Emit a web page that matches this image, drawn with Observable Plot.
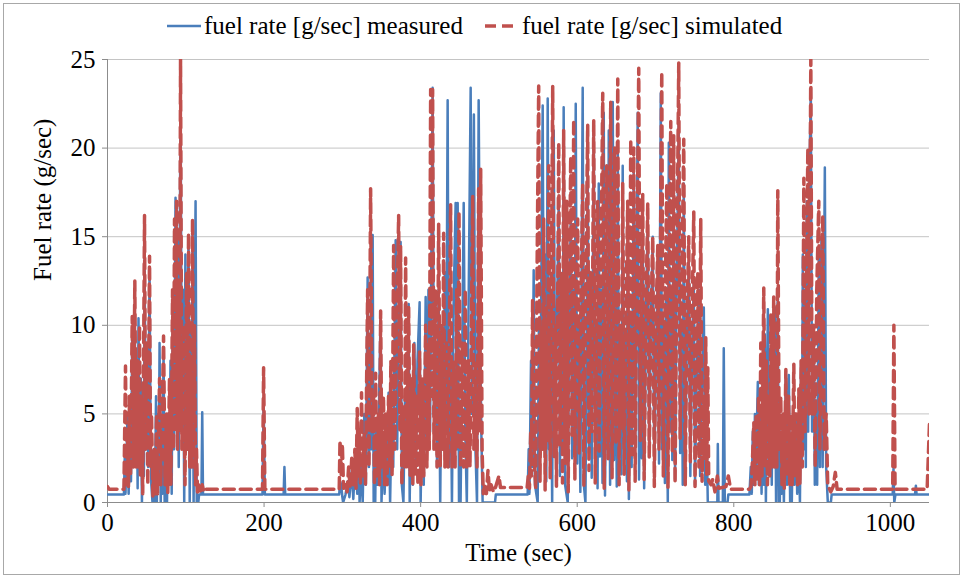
<!DOCTYPE html>
<html>
<head>
<meta charset="utf-8">
<script src="https://cdn.jsdelivr.net/npm/d3@7"></script>
<script src="https://cdn.jsdelivr.net/npm/@observablehq/plot@0.6"></script>
<style>
  html, body { margin: 0; padding: 0; background: #fff; }
  #chart { position: relative; width: 965px; height: 580px; font-family: "Liberation Serif", "Times New Roman", serif; }
  #frame { position: absolute; left: 3px; top: 3px; width: 957px; height: 572px; border: 1px solid #a8a8a8; box-sizing: border-box; pointer-events: none; }
  #legend { position: relative; height: 44px; }
  #legend .items { position: absolute; left: 167px; top: 13px; display: flex; align-items: center; font-size: 25px; color: #000; line-height: 26px; white-space: nowrap; }
  #legend svg { display: block; }
  #legend .lab { margin-left: 3px; }
  #legend .gap { width: 22px; }
  #plot svg text { font-family: "Liberation Serif", "Times New Roman", serif; }
  [aria-label="x-axis"] line, [aria-label="y-axis"] line,
  [aria-label="x-axis tick"], [aria-label="y-axis tick"] { stroke: #8c8c8c; }
</style>
</head>
<body>
<div id="chart">
  <div id="legend"><div class="items" id="legendItems"></div></div>
  <div id="plot"></div>
  <div id="frame"></div>
</div>
<script>
// ---- data ----
const seriesNames = ["fuel rate [g/sec] measured", "fuel rate [g/sec] simulated"];
const seriesColors = ["#4a7ebb", "#c0504d"];
const xTicks = [0, 200, 400, 600, 800, 1000];
const yTicks = [0, 5, 10, 15, 20, 25];
const xTitle = "Time (sec)";
const yTitle = "Fuel rate (g/sec)";

// [time (sec), fuel rate (g/sec)] – measured
const measured = [
[0,0.45],[21,0.45],[22,2.5],[23,0.5],[25.6,5.0],[27,0.5],[28.5,4],[30,1.2],[31.6,9.5],[33,2],[34.9,10],[36,2.5],[37.5,6],[38.5,0.8],[39.6,10.4],[41,2],[42.5,7],[44,0],[45.5,6],[46.5,1.5],[47.3,14],[49,3],[50.5,9],[52,2],[53.7,13.2],[55,4],[56,1],[57.5,0],[59,3],[60.5,0],[62,6],[63,0],[64.5,5],[65.5,1],[66.5,9.0],[68,0],[69,4],[70,0.5],[71.6,8.5],[73,0],[74.5,3],[76,0],[77.5,5],[79,1],[80.5,8],[82,0.5],[83.5,12],[85,3],[86.9,17.2],[88,5],[89.5,15],[91,2],[93.3,23.4],[95,4],[96.5,12],[98,0],[99.5,14],[101,3],[103.5,15],[105,0],[106.5,10],[107.5,2],[108.6,15.5],[110,0],[111,8],[112.5,17],[114,0],[116,0],[117,0.45],[120,0.45],[121,5.1],[122,0.45],
[198,0.45],[199.4,5.9],[201,0.45],[225,0.45],[226,2.0],[227,0.45],
[296,0.45],[297,1.2],[298.5,1.0],[300,0.3],[301,0],[304,0.45],[307,1.2],[309,0.3],[312,1.8],[314,0.2],[317,2.9],[319,0.5],[321,3.6],[322,0],[324,2],[326,0],[328,5],[330,1],[332.3,12.7],[334,2],[336,9],[337,3],[338.7,15.1],[340,0],[342,0],[343,4],[345,1],[347,6],[348.9,10.8],[350,0],[352,3],[354,0.5],[356,4],[357.5,1],[359.1,6.2],[361,0],[363,5],[365,2],[368.1,14.8],[370,3],[372,10],[374.4,14.7],[376,1],[378,0],[380,6],[382,2],[384.7,11.2],[386,0],[388,7],[390,1],[392,9],[394,2],[396,8],[398.7,11.3],[400,0],[402,6],[404,1],[406.4,11.6],[408,3],[410,12],[412,4],[415.3,23.4],[417,5],[419,9],[421,2],[423,12],[425,0],[427,10],[429,3],[431,13],[432.5,4],[434.5,22.7],[436,2],[438,9],[440,0],[442,11],[444.7,16.9],[446,3],[447.3,16.9],[449,0],[451,0],[453,8],[455,16.9],[457,4],[459,0],[461,10],[463.9,23.4],[465.5,5],[468,21.9],[470,3],[472,0],[474.1,22.7],[476,10],[477.5,4],[479.2,0],[495,0],[496,0.45],[535,0.45],
[536.7,0.45],[538,3],[539,0.5],[541,8],[542.5,2],[544.4,13.1],[546,1],[549.5,0],[551,10],[552.5,3],[555.9,22.4],[557.5,4],[559,14],[560.5,1.2],[562.3,22.8],[564,3],[566,12],[568,0],[570,21],[572,3.5],[574,10],[576.4,17],[578,1.5],[580,12],[581.5,3],[582.7,22.3],[584.5,1],[587.9,0],[589.5,9],[591.7,16],[593.5,2.5],[595.5,12],[596.5,3],[598.1,22.5],[600,2.2],[602,10],[604,0.6],[607,23.4],[608.5,1],[610.5,0],[612,9],[613.4,19],[615,2.8],[617,12],[618.5,1.4],[621.1,21],[623,3.2],[625,10],[626,0.8],[627.5,18],[629,2.6],[631,12],[632.3,1.1],[633.9,22],[635.5,0.4],[637.5,10],[639,3],[640.3,21],[642,1],[643.5,11],[645.4,22.6],[647,2.4],[649,12],[650.5,0.9],[651.8,20],[653.5,3.1],[655,10],[656.5,1.6],[658.1,19],[660,2.7],[662,9],[663.5,1.2],[664.5,16],[666,0.2],[668,10],[669.5,2],[672.2,19],[674,3.3],[675.5,12],[677.3,22],[679,1.3],[681,10],[682.5,2.5],[683.7,15.5],[685.5,0.8],[688,11],[690.1,16],[692,2.9],[694,10],[696.5,15],[698.5,1.4],[700.5,8],[702.9,13],[704.5,2.2],[706.7,23.1],[708.5,3],[710.5,10],[712,1.1],[713.5,12],[715.7,0],[717,20.3],[718.5,4],[720.5,12],[721.5,2.4],[723.3,19],[725,1.3],[727,12],[729.7,21.3],[731.5,2.8],[733.5,10],[734.8,1],[736.1,18],[738,2.6],[740,9],[742.5,13.6],[744.5,1.5],[746.5,8],[748.9,12.5],[750.5,1],[752.5,7],[755.3,12],[757,1.5],[759,6],[761.7,11],[763.5,1],[765,5],[766.8,0],[779,0],[779.6,3.3],[780.5,0],[786,0],[787.2,8.7],[788.5,0],[792,0],[793,0.45],[820,0.45],
[821.7,2],[823,0.5],[824.3,4],[825.5,1],[827,5],[828.1,1.5],[830.7,6.8],[832,1],[834,5],[835.5,0.5],[837.1,7.8],[838.5,1],[839.6,9.5],[841,0],[843.5,10.9],[845,2],[847.3,7],[848.5,1],[850,9],[851,2],[852.4,11],[854,0],[856.2,12.1],[857.5,0],[858.8,0],[860,4],[861,0.5],[862.6,3],[864,0],[866.5,7.4],[868,1],[870.3,7.2],[872,0],[874.1,0],[876,5],[877.5,1],[879.2,5],[881,0.5],[883,3],[884.5,0],[886,8],[887,2],[888.2,14],[889.5,3],[891,12],[892,2],[893.3,17],[895,4],[896.5,18],[898.4,23.4],[900,4],[902.2,9.3],[903.5,1],[905,5],[906.5,1],[908.6,14],[910,2],[912,15],[913.5,2],[916.3,18.9],[918,2],[920.1,0],[924,0],[925,0.45],
[1003,0.45],[1004,1.9],[1005,0],[1006.5,0.45],[1031.5,0.45],[1032.6,0.95],[1033.5,0.45],[1050,0.45]
];

// [time (sec), fuel rate (g/sec)] – simulated
const simulated = [
[0,0.9],[2,0.75],[21,0.75],[23,7.7],[24.3,1],[25.6,4],[26.8,0.8],[28.1,6.0],[29.5,1.5],[31.6,10.5],[33,2],[34.9,12.5],[36.5,2],[38.3,8],[39.5,2],[40.9,10],[42,1.5],[43.5,6],[45,0.5],[47.3,16.2],[48.5,3],[49.8,9],[51.5,1],[53.7,13.9],[55,2],[56.2,5],[58,0.3],[60.1,3],[61.3,0.5],[62.6,5],[64,0.5],[66.5,7],[68,1],[70,5],[71.6,9.4],[73.5,1],[75.4,5],[77,0.5],[79.2,7],[81,1],[83.1,12],[84.3,3],[85.6,16],[87,4],[88.2,17],[89.5,3],[90.7,12],[92,4],[93.3,25],[95,3],[97.1,10],[99,1],[101,13],[102.3,3],[103.5,15.2],[105,2],[106.1,8],[107.3,2],[108.6,16.0],[110,2],[111.2,10],[112.5,1],[113.7,3],[115,0.5],[116.3,1],[118.8,0.5],[121,1.0],[123,0.6],[125,0.75],
[198,0.75],[199.4,7.6],[201,0.75],
[296,0.75],[297,3.5],[298.5,1.5],[300,3.3],[301.5,0.8],[304,1.0],[306,0.6],[308,2.0],[310,0.8],[312,2.5],[314,1.0],[316,3],[317.5,0.8],[319,5.3],[320.5,1.5],[322,4],[323,1],[324.5,6.2],[326,1.5],[328,4],[329.5,1],[332.3,12],[334,2],[336.1,17.7],[338,4],[340,6],[341,1],[342.5,7.3],[344,1.5],[346,5],[347.5,1],[348.9,10.8],[350.5,2],[352.5,6],[354,1],[355.3,5],[357,1],[359,6],[360.5,2],[362,8],[363.5,1.5],[365.5,14.5],[367,3],[369,9],[371.9,16.2],[373.5,4],[374.4,14.5],[376,1],[378,5],[379.5,2],[380.8,13.8],[382.5,2],[384.7,11],[386.5,1.5],[388.5,7],[390,1],[391.1,8.9],[393,1.5],[395,6],[396.5,1],[398.7,8.5],[400.5,1],[402.5,7],[404,1.5],[406.4,10],[408,2],[410,9],[411,3],[412.8,23.3],[414,6],[415.3,23.3],[417,3],[419,12],[421,2],[423,15.7],[425,2],[427,10],[428,3],[429.4,15.2],[431,2],[433,9],[435,2],[438.3,16.8],[440,2],[442,8],[444,2],[446,12],[447.5,3],[449,16.4],[451,2],[453,9],[455,2],[457,12],[459,2],[461,8],[463,2],[466.5,17.3],[468,3],[470,8],[472,2],[474.1,17.7],[475.5,4],[476.7,18.8],[478.5,3],[480,0.5],[482,1.0],[484,0.5],[486,1.8],[488,0.6],[490,1.0],[493,0.6],[496,0.9],[500,1.5],[502,0.85],[536,0.85],
[537.5,1.5],[539,0.8],[540.6,4.0],[541.5,1.5],[543,11.4],[545,2.5],[547,0.8],[548.5,12],[550.8,23.5],[552.5,1.2],[554,10],[555.5,3],[557.2,16],[559,0.7],[561,11],[562,3.5],[563.6,19],[565.5,1.4],[567,12],[568.7,23.5],[570.5,2.6],[572,10],[573.5,0.9],[576.4,20.3],[578,3.2],[580,13],[581.2,1.1],[582.7,21.0],[584.5,2.2],[586.6,17],[588.5,0.6],[590,12],[591.7,19.5],[593.5,3.8],[595.5,21.6],[597,1.3],[598.5,11],[600.6,16],[602.5,2.8],[605,12],[607,18],[608.5,0.9],[610.5,11],[613.4,21.3],[615,1.8],[617,13],[618.5,4],[621.1,21.6],[623,1.1],[624.5,10],[626.2,17],[628,2.9],[630,12],[632.6,23.1],[634.5,0.8],[636,12],[637.7,19],[639.5,2.4],[641,12],[642.8,22.6],[644.5,1.4],[646,10],[647.9,20],[649.5,3.3],[651.8,23.9],[653.5,1.0],[655,10],[656.5,4.2],[658.1,18],[660,1.6],[662,10],[664.5,17],[666,0.7],[668.4,20.5],[670,2.7],[672.2,20],[674,1.2],[676,12],[678.6,24.5],[680.5,3.5],[682,12],[683.7,17.4],[685.5,1.3],[687.5,10],[690.1,16.9],[692,2.5],[694,10],[696.5,15],[698.5,0.9],[700.5,10],[702.9,14.5],[704.5,3.0],[706,12],[708,24.3],[710,1.5],[712.5,12],[714.4,18],[716,0.8],[717.5,12],[719.5,21.5],[721.5,2.8],[723.3,20.7],[725,1.1],[727,12],[729.7,24.8],[731.5,3.6],[733.5,12],[736.1,20.5],[738,1.0],[740,10],[742.5,15],[744.5,2.3],[746.5,10],[748.9,16.4],[750.5,0.9],[752,9],[754,13],[755.5,2.0],[757.8,16.0],[759.5,1.2],[761,6],[762.5,2.5],[764.2,9.3],[765.5,1.6],[766.8,7.6],[768,1.2],[771,1.0],[773,1.3],[776,0.6],[779,1.5],[781,0.8],[790,0.9],[793,1.5],[796,0.75],[820,0.75],
[822,0.9],[823.5,2],[825.6,4.5],[827,1],[828.5,5],[830,1.2],[831.5,6],[833,1],[834.5,9],[836,1.5],[838.3,12.1],[840,2],[841.5,8],[843,1],[845,6],[846,1.5],[847.3,10.6],[849,2],[851,11.6],[852.5,2],[854,8],[855,2],[856.2,17.6],[858,3],[860,6],[861.5,1],[863,5],[864.5,0.8],[866.5,7.5],[868,1.5],[870,6],[871.5,1],[873,5],[874.5,1],[876.7,7.8],[878,1.5],[880,5],[881.5,1],[883.1,6.4],[884.5,1],[886,8],[887.5,2],[889.5,18.3],[891,4],[892.5,10],[894.6,20],[896,5],[898.4,25],[900,5],[902,10],[904,2],[906,12],[908.6,17],[910,3],[911.5,8],[913.7,16.2],[915.5,3],[918,5],[920,1],[923.9,0.6],[927,0.9],[929.7,1.7],[932,0.75],
[1003,0.75],[1004.5,10],[1006,0.75],[1047,0.75],[1050,4.5]
];

// ---- legend (HTML, above the SVG) ----
const items = document.getElementById("legendItems");
seriesNames.forEach((name, i) => {
  if (i > 0) { const g = document.createElement("div"); g.className = "gap"; items.appendChild(g); }
  const ns = "http://www.w3.org/2000/svg";
  const sw = document.createElementNS(ns, "svg");
  sw.setAttribute("width", "34"); sw.setAttribute("height", "8");
  const ln = document.createElementNS(ns, "line");
  ln.setAttribute("x1", "0"); ln.setAttribute("x2", "34");
  ln.setAttribute("y1", "4"); ln.setAttribute("y2", "4");
  ln.setAttribute("stroke", seriesColors[i]);
  ln.setAttribute("stroke-width", i === 0 ? "2.5" : "3.5");
  if (i === 1) ln.setAttribute("stroke-dasharray", "11,6");
  sw.appendChild(ln);
  items.appendChild(sw);
  const t = document.createElement("span"); t.className = "lab"; t.textContent = name;
  items.appendChild(t);
});

// ---- chart ----
const chart = Plot.plot({
  width: 965,
  height: 536,
  marginTop: 15,
  marginBottom: 78,
  marginLeft: 107,
  marginRight: 36,
  style: { fontFamily: "\"Liberation Serif\", \"Times New Roman\", serif", fontSize: "25px", color: "#000", background: "transparent", overflow: "visible" },
  x: { domain: [0, 1050], ticks: xTicks, tickFormat: d => String(d), tickSize: 5, tickPadding: 6, label: null },
  y: { domain: [0, 25], ticks: yTicks, tickFormat: d => String(d), tickSize: 5, tickPadding: 7, label: null },
  marks: [
    Plot.ruleY(yTicks.filter(d => d > 0), { stroke: "#c4c4c4", strokeWidth: 1 }),
    Plot.ruleX([0], { stroke: "#8c8c8c", strokeWidth: 1 }),
    Plot.ruleY([0], { stroke: "#8c8c8c", strokeWidth: 1 }),
    Plot.line(measured, { x: d => d[0], y: d => d[1], stroke: seriesColors[0], strokeWidth: 2.5, clip: true }),
    Plot.line(simulated, { x: d => d[0], y: d => d[1], stroke: seriesColors[1], strokeWidth: 3.5, strokeDasharray: "11,6", clip: true }),
    Plot.text([xTitle], { text: d => d, frameAnchor: "bottom", dy: 50, fontSize: 25, lineAnchor: "middle" }),
    Plot.text([yTitle], { text: d => d, frameAnchor: "left", dx: -65, rotate: -90, fontSize: 25, lineAnchor: "middle" })
  ]
});
document.getElementById("plot").appendChild(chart);
</script>
</body>
</html>
